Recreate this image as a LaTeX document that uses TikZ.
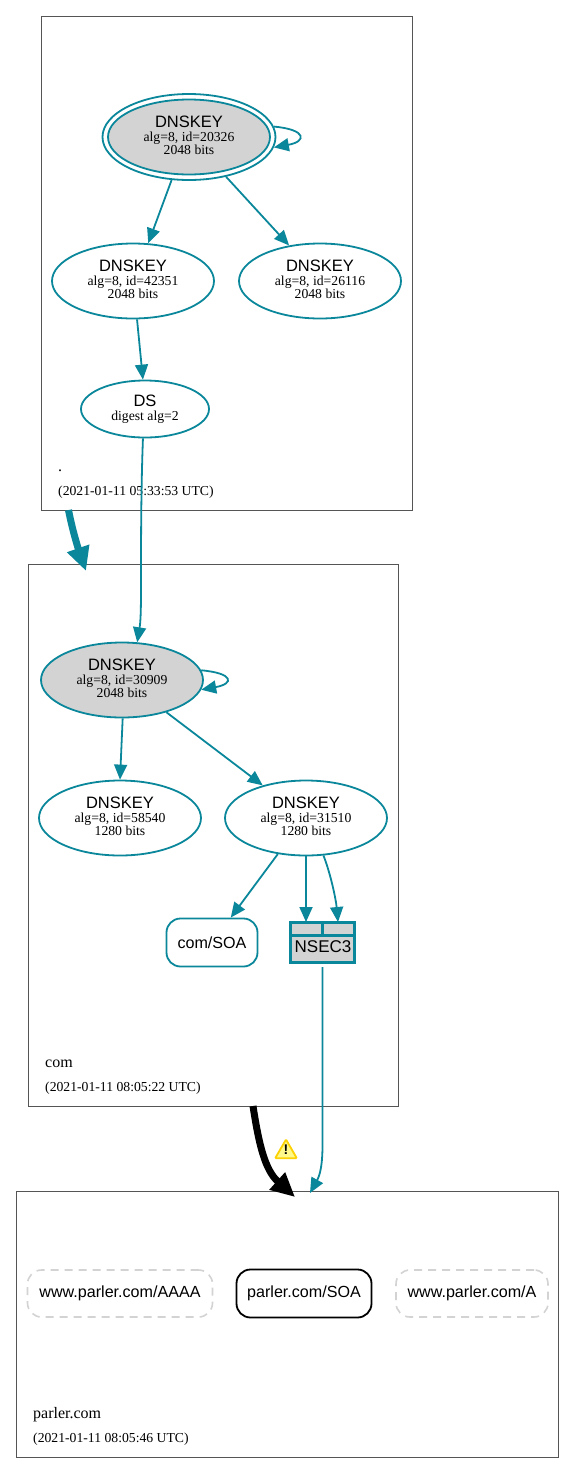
\documentclass[tikz,border=0pt]{standalone}
\usepackage{fontspec}
\setmainfont{Liberation Serif}
\setsansfont{Liberation Sans}
\usetikzlibrary{shapes.geometric,arrows.meta}
\definecolor{dnsteal}{HTML}{0A879A}
\definecolor{dnsgray}{HTML}{D3D3D3}
\definecolor{zoneline}{HTML}{555555}
\newcommand{\keytext}[2]{{\sffamily\fontsize{16.5}{17}\selectfont DNSKEY}\\[1pt]#1\\#2\rule[-3pt]{0pt}{3pt}}
\tikzset{
  zonebox/.style={draw=zoneline, line width=0.8pt, minimum width=#1, inner sep=0pt},
  keynode/.style={draw=dnsteal, line width=1.8pt, ellipse, align=center, inner sep=0pt, minimum width=162pt, minimum height=75pt, font=\fontsize{13.7}{13}\selectfont},
  ksknode/.style={keynode, fill=dnsgray},
  rrnode/.style={rectangle, rounded corners=14pt, align=center, inner sep=0pt, font=\sffamily\fontsize{16.1}{17}\selectfont},
  keyedge/.style={draw=dnsteal, line width=1.8pt, -{Triangle[length=15pt,width=13pt]}},
  zonetext/.style={anchor=base west, inner sep=0pt, font=\fontsize{16}{17}\selectfont},
  datetext/.style={anchor=base west, inner sep=0pt, font=\fontsize{13.7}{14}\selectfont},
}
\begin{document}
\begin{tikzpicture}[x=1pt,y=-1pt]
    \useasboundingbox (0,0) rectangle (575,1473);

    %zones
    \node[zonebox=370.5pt, minimum height=494pt] (rootzone) at (226.75,263) {};
    \node[zonebox=370.5pt, minimum height=542pt] (comzone) at (213.25,835) {};
    \node[zonebox=542pt, minimum height=266pt] (parlerzone) at (287,1324) {};

    %root zone
    \node[keynode, minimum width=173pt, minimum height=86pt] (rootkskout) at (189,137) {};
    \node[ksknode] (rootksk) at (189,137) {\keytext{alg=8, id=20326}{2048 bits}};
    \node[keynode] (rootzsk) at (133,281) {\keytext{alg=8, id=42351}{2048 bits}};
    \node[keynode] (rootother) at (320,281) {\keytext{alg=8, id=26116}{2048 bits}};
    \node[keynode, minimum width=128pt, minimum height=57pt] (rootds) at (145,409) {{\sffamily\fontsize{16.5}{17}\selectfont DS}\\[1pt]digest alg=2};
    \node[zonetext] (rootname) at (58,471) {.};
    \node[datetext] (rootdate) at (58,495) {(2021-01-11 05:33:53 UTC)};

    %com zone
    \node[ksknode] (comksk) at (122,680) {\keytext{alg=8, id=30909}{2048 bits}};
    \node[keynode] (comother) at (120,818) {\keytext{alg=8, id=58540}{1280 bits}};
    \node[keynode] (comzsk) at (306,818) {\keytext{alg=8, id=31510}{1280 bits}};
    \node[rrnode, draw=dnsteal, line width=1.8pt, minimum width=91pt, minimum height=48pt] (comsoa) at (212,942.5) {com/SOA};
    \node[draw=dnsteal, line width=2.4pt, fill=dnsgray, minimum width=64pt, minimum height=40pt, inner sep=0pt, text depth=0pt, font=\sffamily\fontsize{17}{18}\selectfont] (nsec) at (322.5,942.5) {\hspace{1pt}\raisebox{-9pt}{NSEC3}};
    \draw[dnsteal, line width=2.4pt] (nsec.west |- 0,935.5) -- (nsec.east |- 0,935.5);
    \draw[dnsteal, line width=2.4pt] (nsec.north) -- (nsec.north |- 0,935.5);
    \coordinate (nsecleft) at (306,922);
    \coordinate (nsecright) at (338,922);
    \node[zonetext] (comname) at (45,1067) {com};
    \node[datetext] (comdate) at (45,1091) {(2021-01-11 08:05:22 UTC)};

    %parler zone
    \node[rrnode, draw=dnsgray, dashed, dash pattern=on 8pt off 6pt, line width=1.6pt, minimum width=185pt, minimum height=47pt] (wwwaaaa) at (120,1293.5) {www.parler.com/AAAA};
    \node[rrnode, draw=black, line width=1.8pt, minimum width=135pt, minimum height=48pt] (parlersoa) at (304,1293.5) {parler.com/SOA};
    \node[rrnode, draw=dnsgray, dashed, dash pattern=on 8pt off 6pt, line width=1.6pt, minimum width=152pt, minimum height=47pt] (wwwa) at (472,1293.5) {www.parler.com/A};
    \node[zonetext] (parlername) at (33,1418) {parler.com};
    \node[datetext] (parlerdate) at (33,1442) {(2021-01-11 08:05:46 UTC)};

    %edges (root)
    \draw[keyedge] (rootkskout.7) .. controls +(33,3) and +(33,-6) .. (rootkskout.-7);
    \draw[keyedge] (rootkskout.-112) -- (rootzsk.68.5);
    \draw[keyedge] (rootkskout.-47) -- (rootother.131.5);
    \draw[keyedge] (rootzsk.-84) -- (rootds.94);

    %edges (com)
    \draw[keyedge] (rootds.-94) .. controls (141,490) and (141,540) .. (141,590) .. controls (141,620) and (140,625) .. (comksk.68);
    \draw[keyedge] (comksk.7) .. controls +(33,3) and +(33,-6) .. (comksk.-7);
    \draw[keyedge] (comksk.-89) -- (comother.90);
    \draw[keyedge] (comksk.-36) -- (comzsk.143.5);
    \draw[keyedge] (comzsk.-128) -- (comsoa.53);
    \draw[keyedge] (comzsk.-90) -- (nsecleft);
    \draw[keyedge] (comzsk.-65) .. controls (331,875) and (336,900) .. (nsecright);

    %edges between zones
    \coordinate (rootout) at (68.5,510);
    \coordinate (comin) at (86,571);
    \coordinate (comout) at (253,1106);
    \coordinate (parlerin) at (295,1197);
    \coordinate (nsecout) at (322.5,967);
    \coordinate (parlerdel) at (310,1193);
    \draw[draw=dnsteal, line width=7pt, -{Triangle[length=24pt,width=22pt]}] (rootout) .. controls (72,528) and (77,545) .. (comin);
    \draw[draw=black, line width=7pt, -{Triangle[length=24pt,width=22pt]}] (comout) .. controls (259,1145) and (265,1170) .. (parlerin);
    \draw[keyedge] (nsecout) -- (322.5,1145) .. controls (322.5,1165) and (320,1175) .. (parlerdel);

    %warning
    \node[draw=yellow!70!orange, fill=yellow!45!white, line width=1.8pt, regular polygon, regular polygon sides=3, rounded corners=1pt, inner sep=0pt, minimum size=25pt] (warnicon) at (286,1152) {};
    \node[inner sep=0pt, font=\sffamily\bfseries\fontsize{14}{14}\selectfont] (warnmark) at (286,1150) {!};
\end{tikzpicture}
\end{document}
